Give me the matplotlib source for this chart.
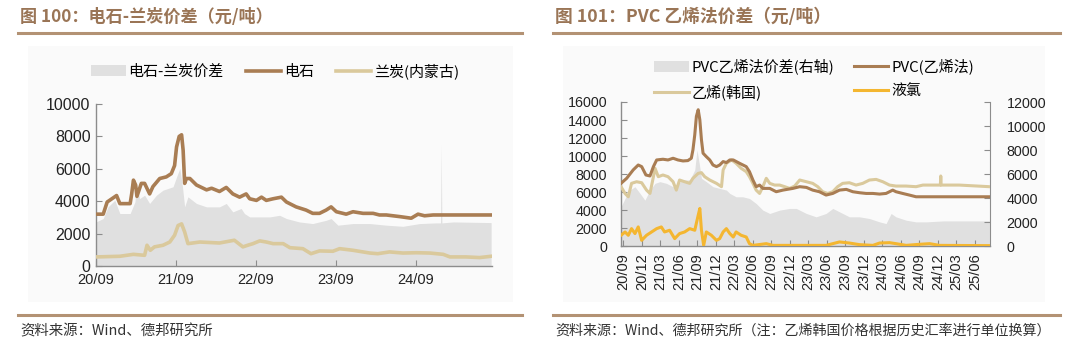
import matplotlib
matplotlib.use("Agg")
import matplotlib.pyplot as plt
import matplotlib.dates as mdates
from matplotlib.patches import Rectangle
from matplotlib.lines import Line2D
import pandas as pd

plt.rcParams['font.family'] = ['Liberation Sans', 'Noto Sans CJK SC', 'DejaVu Sans']
CJK = ['Noto Sans CJK SC', 'DejaVu Sans']

# ---------------- Left chart data: 电石 / 兰炭 ----------------
carbide_dates = ['2020-09-01', '2020-10-04', '2020-10-22', '2020-12-04', '2020-12-19', '2021-02-04',
                 '2021-02-11', '2021-02-19', '2021-03-01', '2021-03-07', '2021-03-27', '2021-04-11',
                 '2021-05-04', '2021-05-19', '2021-06-19', '2021-07-19', '2021-08-11', '2021-08-26',
                 '2021-09-04', '2021-09-16', '2021-09-27', '2021-10-04', '2021-10-11', '2021-10-19',
                 '2021-11-04', '2021-12-04', '2022-01-19', '2022-02-11', '2022-03-19', '2022-04-19',
                 '2022-05-19', '2022-06-19', '2022-07-19', '2022-08-04', '2022-09-04', '2022-09-27',
                 '2022-10-19', '2022-11-19', '2022-12-27', '2023-01-19', '2023-03-04', '2023-04-19',
                 '2023-05-19', '2023-06-19', '2023-07-19', '2023-08-11', '2023-09-04', '2023-10-19',
                 '2023-11-19', '2024-01-04', '2024-02-19', '2024-03-19', '2024-04-19', '2024-06-19',
                 '2024-08-11', '2024-09-11', '2024-10-11', '2024-11-19', '2025-08-11']
carbide = [3200, 3200, 3950, 4350, 3850, 3850,
           4450, 5300, 5000, 4300, 5100, 5100,
           4450, 4900, 5400, 5500, 5700, 6200,
           7350, 8000, 8100, 7150, 5100, 5400,
           5400, 5000, 4700, 4800, 4600, 4850,
           4450, 4250, 4450, 4150, 4050, 4250,
           4050, 4150, 4250, 3950, 3650, 3450,
           3250, 3250, 3450, 3650, 3350, 3200,
           3350, 3250, 3250, 3150, 3150, 3050,
           2950, 3200, 3100, 3150, 3150]

coke_dates = ['2020-09-01', '2020-12-19', '2021-02-19', '2021-04-11', '2021-04-22', '2021-05-07',
              '2021-05-26', '2021-07-04', '2021-08-04', '2021-08-26', '2021-09-11', '2021-09-27',
              '2021-10-11', '2021-10-26', '2021-12-19', '2022-03-19', '2022-05-26', '2022-07-04',
              '2022-07-26', '2022-08-19', '2022-09-19', '2022-10-19', '2022-11-19', '2023-01-04',
              '2023-02-04', '2023-04-04', '2023-05-11', '2023-06-19', '2023-08-19', '2023-09-19',
              '2023-11-19', '2024-02-04', '2024-03-11', '2024-05-04', '2024-07-04', '2024-09-04',
              '2024-11-04', '2025-01-04', '2025-02-04', '2025-04-19', '2025-06-19', '2025-08-11']
coke = [560, 600, 720, 660, 1280, 970,
        1180, 1280, 1480, 1900, 2500, 2600,
        2100, 1380, 1480, 1420, 1590, 1180,
        1280, 1380, 1550, 1480, 1380, 1380,
        1130, 1070, 760, 930, 910, 1070,
        970, 800, 760, 870, 800, 820,
        800, 720, 560, 560, 520, 600]

spread1_dates = ['2020-09-01', '2020-10-04', '2020-10-26', '2020-11-26', '2020-12-19', '2021-02-04',
                 '2021-02-26', '2021-03-04', '2021-03-19', '2021-04-11', '2021-05-04', '2021-06-04',
                 '2021-07-04', '2021-08-19', '2021-09-04', '2021-09-19', '2021-10-01', '2021-10-11',
                 '2021-10-26', '2021-12-04', '2022-01-19', '2022-03-19', '2022-04-19', '2022-05-19',
                 '2022-06-26', '2022-07-11', '2022-08-04', '2022-09-19', '2022-11-04', '2022-12-19',
                 '2023-01-19', '2023-03-19', '2023-05-19', '2023-07-19', '2023-08-11', '2023-09-11',
                 '2023-11-19', '2024-02-04', '2024-04-19', '2024-07-04', '2024-09-19', '2024-12-04',
                 '2024-12-23', '2024-12-26', '2024-12-29', '2025-02-19', '2025-08-11']
spread1 = [2720, 2930, 3650, 4060, 3240, 3240,
           3960, 5090, 4160, 4370, 3860, 4370,
           4680, 4890, 5500, 6020, 4890, 3650,
           4270, 3860, 3650, 3650, 3860, 3340,
           3550, 3240, 3030, 3030, 3030, 3130,
           2930, 2720, 2620, 2820, 2930, 2520,
           2620, 2620, 2520, 2450, 2620, 2660,
           2660, 7500, 2660, 2720, 2680]

left_ticks = ['2020-09-01', '2021-09-01', '2022-09-01', '2023-09-01', '2024-09-01']

# ---------------- Right chart data: PVC 乙烯法 ----------------
pvc_dates = ['2020-08-20', '2020-09-17', '2020-10-19', '2020-11-13', '2020-11-30', '2020-12-21',
             '2021-01-10', '2021-01-27', '2021-02-12', '2021-03-15', '2021-04-09', '2021-05-04',
             '2021-05-28', '2021-06-22', '2021-07-16', '2021-08-02', '2021-08-10', '2021-08-19',
             '2021-08-27', '2021-09-05', '2021-09-13', '2021-09-21', '2021-09-29', '2021-10-15',
             '2021-11-01', '2021-11-17', '2021-12-04', '2021-12-20', '2022-01-06', '2022-01-22',
             '2022-02-08', '2022-02-25', '2022-03-28', '2022-04-30', '2022-05-16', '2022-06-02',
             '2022-06-18', '2022-07-05', '2022-07-21', '2022-08-24', '2022-09-25', '2022-10-28',
             '2022-12-16', '2023-01-19', '2023-02-21', '2023-03-24', '2023-04-26', '2023-05-29',
             '2023-07-01', '2023-08-03', '2023-09-06', '2023-10-08', '2023-11-10', '2023-12-13',
             '2024-01-15', '2024-02-17', '2024-03-20', '2024-04-22', '2024-05-08', '2024-06-10',
             '2024-07-13', '2024-08-15', '2025-08-12']
pvc = [6960, 7520, 8450, 9000, 8820, 7890,
       7780, 8820, 9560, 9640, 9560, 9750,
       9560, 9450, 9490, 9750, 10680, 12350,
       14400, 15140, 14030, 11800, 10310, 9930,
       9560, 9000, 8820, 9000, 9380, 9270,
       9560, 9560, 9190, 8820, 8260, 7330,
       6590, 6770, 6400, 6400, 6030, 6210,
       6400, 6590, 6510, 6210, 6030, 5660,
       5840, 6210, 6290, 6030, 5920, 5840,
       5840, 5770, 5840, 6210, 6030, 5840,
       5660, 5470, 5470]

eth_dates = ['2020-08-20', '2020-09-09', '2020-09-25', '2020-10-11', '2020-11-05', '2020-11-30',
             '2020-12-24', '2021-01-10', '2021-01-27', '2021-02-04', '2021-02-20', '2021-03-15',
             '2021-04-09', '2021-05-04', '2021-05-20', '2021-06-05', '2021-06-30', '2021-07-25',
             '2021-08-10', '2021-09-05', '2021-09-21', '2021-10-07', '2021-11-01', '2021-12-04',
             '2021-12-29', '2022-01-06', '2022-01-22', '2022-02-17', '2022-03-11', '2022-04-05',
             '2022-04-30', '2022-05-16', '2022-06-02', '2022-06-18', '2022-07-05', '2022-07-21',
             '2022-08-07', '2022-08-24', '2022-09-17', '2022-10-12', '2022-11-06', '2022-11-30',
             '2022-12-25', '2023-01-19', '2023-02-21', '2023-03-24', '2023-04-18', '2023-05-12',
             '2023-06-06', '2023-07-01', '2023-07-25', '2023-08-19', '2023-09-21', '2023-10-24',
             '2023-11-26', '2023-12-29', '2024-01-31', '2024-03-04', '2024-04-06', '2024-05-08',
             '2024-06-27', '2024-08-15', '2024-09-18', '2024-12-13', '2024-12-15', '2024-12-17',
             '2025-03-16', '2025-08-12']
eth = [6590, 5840, 5470, 6960, 7140, 7030,
       6210, 5840, 7700, 8630, 7700, 7890,
       7700, 7140, 6210, 7330, 7140, 6960,
       7520, 8070, 8150, 7700, 7330, 6960,
       6590, 8450, 9190, 9560, 9190, 8630,
       8260, 7700, 6960, 6210, 5840, 6590,
       7520, 6960, 6770, 6770, 6590, 6400,
       6660, 7330, 7140, 6960, 6590, 6030,
       5840, 6030, 6590, 6960, 7030, 6770,
       6960, 7330, 7400, 7140, 6770, 6660,
       6660, 6590, 6770, 6770, 7780, 6770,
       6770, 6590]

cl_dates = ['2020-08-20', '2020-09-09', '2020-09-25', '2020-10-11', '2020-10-28', '2020-11-13',
            '2020-11-30', '2020-12-24', '2021-01-18', '2021-02-12', '2021-03-07', '2021-03-23',
            '2021-04-17', '2021-05-12', '2021-06-05', '2021-06-30', '2021-07-25', '2021-08-19',
            '2021-09-05', '2021-09-13', '2021-09-21', '2021-10-02', '2021-10-15', '2021-11-09',
            '2021-12-04', '2021-12-20', '2022-01-06', '2022-01-22', '2022-02-08', '2022-02-25',
            '2022-03-11', '2022-04-05', '2022-04-30', '2022-05-16', '2022-06-02', '2022-08-07',
            '2022-09-09', '2023-05-29', '2023-08-03', '2023-09-21', '2023-11-10', '2024-01-15',
            '2024-02-17', '2024-04-06', '2024-05-08', '2024-06-27', '2024-09-02', '2024-10-21',
            '2024-12-09', '2025-08-12']
chlorine = [1190, 1560, 1190, 1930, 1380, 2120,
            630, 1190, 1560, 1930, 2120, 1560,
            1750, 820, 1380, 1560, 1930, 1750,
            3420, 4170, 1750, 70, 1560, 1190,
            630, 820, 1560, 1930, 1380, 1000,
            1560, 1190, 1000, 260, 70, 260,
            70, 70, 450, 330, 150, 70,
            330, 370, 260, 70, 190, 260,
            70, 40]

spread2_dates = ['2020-08-20', '2020-09-09', '2020-10-03', '2020-10-28', '2020-11-22', '2020-12-16',
                 '2021-01-10', '2021-02-04', '2021-02-28', '2021-04-01', '2021-05-04', '2021-05-28',
                 '2021-06-22', '2021-07-25', '2021-08-19', '2021-08-30', '2021-09-10', '2021-09-21',
                 '2021-10-15', '2021-11-17', '2021-12-20', '2022-01-22', '2022-02-08', '2022-03-11',
                 '2022-04-13', '2022-05-16', '2022-06-18', '2022-07-21', '2022-08-24', '2022-10-12',
                 '2022-11-30', '2023-01-02', '2023-02-21', '2023-04-10', '2023-05-29', '2023-07-01',
                 '2023-08-03', '2023-09-21', '2023-11-10', '2023-12-29', '2024-02-17', '2024-03-20',
                 '2024-04-14', '2024-05-08', '2024-06-27', '2024-08-15', '2024-10-04', '2024-12-27',
                 '2025-08-12']
spread2 = [3270, 3960, 4660, 4940, 4380, 3820,
           4660, 5220, 5360, 5220, 4940, 5220,
           5500, 5500, 6340, 8010, 6890, 5640,
           5360, 4940, 4800, 4660, 4380, 4100,
           4100, 3960, 3540, 2990, 2710, 2990,
           3130, 3130, 2710, 2430, 2710, 3130,
           2850, 2430, 2430, 2290, 2010, 1870,
           2710, 2430, 2150, 2010, 2010, 2090,
           2090]

right_ticks = pd.date_range('2020-09-01', '2025-06-01', freq='3MS')

# ---------------- colours ----------------
BROWN = '#a97d53'
TAN = '#dac99c'
YELLOW = '#f4b630'
FILLC = '#e0e0e0'
TITLEC = '#9a7556'
RULEC = '#b39274'
PANEL = '#fafafa'
SPINE = '#8c8c8c'

W, H = 1080, 352
fig = plt.figure(figsize=(W / 100, H / 100), dpi=100)
fig.patch.set_facecolor('white')

def fx(px):
    return px / W

def fy(py):
    return 1 - py / H

# panel backgrounds
for x0, x1 in [(28, 513), (563, 1045)]:
    fig.patches.append(Rectangle((fx(x0), fy(302)), fx(x1) - fx(x0), fy(46) - fy(302),
                                 transform=fig.transFigure, facecolor=PANEL, edgecolor='none', zorder=-5))

# rules
for x0, x1 in [(18, 522), (553, 1060)]:
    for y in (33, 315):
        fig.add_artist(Line2D([fx(x0), fx(x1)], [fy(y), fy(y)], transform=fig.transFigure,
                              color=RULEC, lw=2.2))

# titles and sources
fig.text(fx(20), fy(17), '图 100：电石-兰炭价差（元/吨）', family=CJK, fontsize=12.3, fontweight='bold',
         color=TITLEC, va='center', ha='left')
fig.text(fx(555), fy(17), '图 101：PVC 乙烯法价差（元/吨）', family=CJK, fontsize=12.8, fontweight='bold',
         color=TITLEC, va='center', ha='left')
fig.text(fx(20), fy(331), '资料来源：Wind、德邦研究所', family=CJK, fontsize=10.4,
         color='#333333', va='center', ha='left')
fig.text(fx(555), fy(331), '资料来源：Wind、德邦研究所（注：乙烯韩国价格根据历史汇率进行单位换算）',
         family=CJK, fontsize=10.1, color='#333333', va='center', ha='left')

def style_axes(ax):
    ax.set_facecolor('none')
    for s in ['top', 'right']:
        ax.spines[s].set_visible(False)
    for s in ['left', 'bottom']:
        ax.spines[s].set_color(SPINE)
        ax.spines[s].set_linewidth(1.0)
    ax.tick_params(direction='in', length=4, color=SPINE, labelsize=10, labelcolor='#222222')

# ---------------- Left chart ----------------
ax1 = fig.add_axes([fx(96), fy(266), fx(492) - fx(96), fy(104) - fy(266)])
ax1.set_zorder(3)
style_axes(ax1)
d_sp1 = pd.to_datetime(spread1_dates)
ax1.fill_between(d_sp1, 0, spread1, color=FILLC, lw=0, label='电石-兰炭价差', zorder=1)
ax1.plot(pd.to_datetime(carbide_dates), carbide, color=BROWN, lw=2.6, label='电石', zorder=3)
ax1.plot(pd.to_datetime(coke_dates), coke, color=TAN, lw=2.6, label='兰炭(内蒙古)', zorder=3)
ax1.set_ylim(0, 10000)
ax1.set_yticks(range(0, 10001, 2000))
ax1.set_xlim(pd.Timestamp('2020-09-01'), pd.Timestamp('2025-08-15'))
ax1.set_xticks(pd.to_datetime(left_ticks))
ax1.xaxis.set_major_formatter(mdates.DateFormatter('%y/%m'))
ax1.tick_params(axis='x', pad=5, labelsize=10.5)
ax1.tick_params(axis='y', pad=4, labelsize=11.5)

h1, l1 = ax1.get_legend_handles_labels()
leg1 = fig.legend(h1, l1, loc='center', bbox_to_anchor=(fx(275), fy(71)), ncol=3, frameon=False,
                  prop={'family': CJK, 'size': 10.8}, handlelength=2.3, handletextpad=0.2,
                  columnspacing=1.5)

# ---------------- Right chart ----------------
ax2 = fig.add_axes([fx(621), fy(246), fx(990) - fx(621), fy(102) - fy(246)])
ax3 = ax2.twinx()
style_axes(ax2)
ax3.set_facecolor('none')
for s in ['top', 'left']:
    ax3.spines[s].set_visible(False)
ax3.spines['right'].set_color(SPINE)
ax3.spines['bottom'].set_visible(False)
ax3.tick_params(direction='in', length=4, color=SPINE, labelsize=10.3, labelcolor='#222222', pad=12)
ax2.tick_params(axis='y', pad=10, labelsize=10.3)

ax2.set_zorder(4)
ax3.set_zorder(3)
ax2.patch.set_visible(False)

f2 = ax3.fill_between(pd.to_datetime(spread2_dates), 0, spread2, color=FILLC, lw=0,
                      label='PVC乙烯法价差(右轴)')
l_eth, = ax2.plot(pd.to_datetime(eth_dates), eth, color=TAN, lw=2.2, label='乙烯(韩国)', zorder=3)
l_pvc, = ax2.plot(pd.to_datetime(pvc_dates), pvc, color=BROWN, lw=2.2, label='PVC(乙烯法)', zorder=3)
l_cl, = ax2.plot(pd.to_datetime(cl_dates), chlorine, color=YELLOW, lw=2.2, label='液氯', zorder=4)

ax2.set_ylim(0, 16000)
ax2.set_yticks(range(0, 16001, 2000))
ax3.set_ylim(0, 12000)
ax3.set_yticks(range(0, 12001, 2000))
xl = (pd.Timestamp('2020-08-20'), pd.Timestamp('2025-08-15'))
ax2.set_xlim(*xl)
ax3.set_xlim(*xl)
ax2.set_xticks(right_ticks)
ax2.xaxis.set_major_formatter(mdates.DateFormatter('%y/%m'))
ax2.tick_params(axis='x', rotation=90, pad=5, labelsize=10.5)

leg2 = fig.legend([f2, l_eth, l_pvc, l_cl],
                  ['PVC乙烯法价差(右轴)', '乙烯(韩国)', 'PVC(乙烯法)', '液氯'],
                  loc='center', bbox_to_anchor=(fx(814), fy(79.5)), ncol=2, frameon=False,
                  prop={'family': CJK, 'size': 10.8}, handlelength=2.3, handletextpad=0.2,
                  columnspacing=1.3, labelspacing=0.65)

fig.savefig('out.png', dpi=100, facecolor='white')
